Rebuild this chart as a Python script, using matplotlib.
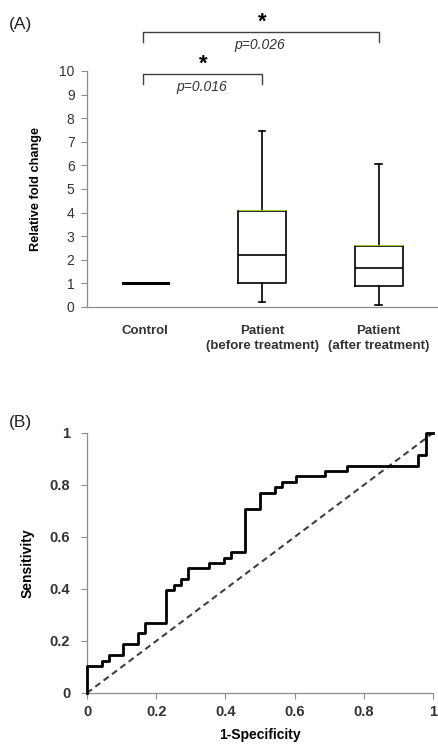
import matplotlib.pyplot as plt
import numpy as np

plt.rcParams['font.family'] = ['Liberation Sans', 'DejaVu Sans']

# panel A: box summary values
groups = ['Control', 'Patient\n(before treatment)', 'Patient\n(after treatment)']
whislo = [1.02, 0.22, 0.10]
q1 = [1.02, 1.00, 0.90]
med = [1.02, 2.20, 1.65]
q3 = [1.02, 4.05, 2.60]
whishi = [1.02, 7.45, 6.05]
pvals = ['p=0.016', 'p=0.026']
pairs = [(1, 2), (1, 3)]

# panel B: ROC step curve
fpr = [0, 0, 0.042, 0.042, 0.0625, 0.0625, 0.104, 0.104, 0.146, 0.146, 0.167, 0.167,
       0.229, 0.229, 0.25, 0.25, 0.271, 0.271, 0.292, 0.292, 0.354, 0.354, 0.396, 0.396,
       0.417, 0.417, 0.458, 0.458, 0.5, 0.5, 0.542, 0.542, 0.5625, 0.5625, 0.604, 0.604,
       0.6875, 0.6875, 0.75, 0.75, 0.958, 0.958, 0.979, 0.979, 1.0]
tpr = [0, 0.104, 0.104, 0.125, 0.125, 0.146, 0.146, 0.1875, 0.1875, 0.229, 0.229, 0.271,
       0.271, 0.396, 0.396, 0.417, 0.417, 0.4375, 0.4375, 0.479, 0.479, 0.5, 0.5, 0.521,
       0.521, 0.542, 0.542, 0.708, 0.708, 0.771, 0.771, 0.792, 0.792, 0.8125, 0.8125, 0.833,
       0.833, 0.854, 0.854, 0.875, 0.875, 0.917, 0.917, 1.0, 1.0]

W, H = 438, 747
fig = plt.figure(figsize=(W / 100, H / 100), dpi=100)
axc = '#8c8c8c'
tc = '#333333'

# ---- panel A
ax = fig.add_axes([87 / W, 1 - 307 / H, 350 / W, 236 / H])
stats = []
for i in range(3):
    stats.append(dict(whislo=whislo[i], q1=q1[i], med=med[i], q3=q3[i], whishi=whishi[i], fliers=[]))
lp = dict(color='black', linewidth=1.2)
ax.bxp(stats, positions=[1, 2, 3], widths=[0.38, 0.41, 0.41], capwidths=0.06,
       boxprops=lp, whiskerprops=lp, capprops=lp,
       medianprops=dict(color='black', linewidth=1.2), showfliers=False)
ax.plot([0.81, 1.19], [med[0], med[0]], color='black', lw=2.2)
# faint green top edge on boxes
for i in (1, 2):
    ax.plot([i + 1 - 0.2, i + 1 + 0.2], [q3[i] + 0.04, q3[i] + 0.04], color='#9acd32', lw=0.8)

ax.set_xlim(0.5, 3.5)
ax.set_ylim(0, 10)
ax.set_yticks(range(0, 11))
ax.tick_params(axis='y', labelsize=10, colors=axc, labelcolor=tc, length=4, width=0.8, pad=5)
ax.set_xticks([1, 2, 3])
ax.set_xticklabels(groups, fontsize=9.5, fontweight='bold', color=tc, linespacing=1.35)
ax.tick_params(axis='x', length=0, pad=13)
for s in ['top', 'right']:
    ax.spines[s].set_visible(False)
for s in ['left', 'bottom']:
    ax.spines[s].set_color(axc)
    ax.spines[s].set_linewidth(0.9)
ax.set_ylabel('Relative fold change', fontsize=9.2, fontweight='bold', color='black', labelpad=12)

# significance brackets
ys = [9.87, 11.65]
for (a, b), y, p in zip(pairs, ys, pvals):
    ax.plot([a - 0.02, a - 0.02, b, b], [y - 0.42, y, y, y - 0.42], color='#404040', lw=1.0, clip_on=False)
    ax.text((a + b) / 2, y + 0.42, '*', ha='center', va='center', fontsize=16, fontweight='bold',
            clip_on=False)
    xt = a + 0.48 if b == 2 else (a + b) / 2 - 0.02
    ax.text(xt, y - 0.55, p, ha='center', va='center', fontsize=10, style='italic', color=tc, clip_on=False)

fig.text(9 / W, 1 - 24 / H, '(A)', fontsize=12.5, va='center', ha='left', color='#222222')

# ---- panel B
bx = fig.add_axes([87 / W, 1 - 693 / H, 346 / W, 260 / H])
bx.plot(fpr, tpr, color='black', lw=2.0, clip_on=False, zorder=3)
bx.plot([0, 1], [0, 1], color='#404040', lw=1.5, ls=(0, (3, 2)))
bx.set_xlim(0, 1)
bx.set_ylim(0, 1)
ticks = [0, 0.2, 0.4, 0.6, 0.8, 1]
lbl = ['0', '0.2', '0.4', '0.6', '0.8', '1']
bx.set_xticks(ticks)
bx.set_xticklabels(lbl, fontsize=10.5, fontweight='bold', color=tc)
bx.set_yticks(ticks)
bx.set_yticklabels(lbl, fontsize=10.5, fontweight='bold', color=tc)
bx.tick_params(colors=axc, labelcolor=tc, length=4, width=0.8)
bx.tick_params(axis='y', pad=8)
bx.tick_params(axis='x', pad=5)
for s in ['top', 'right']:
    bx.spines[s].set_visible(False)
for s in ['left', 'bottom']:
    bx.spines[s].set_color(axc)
    bx.spines[s].set_linewidth(0.9)
bx.set_xlabel('1-Specificity', fontsize=10, fontweight='bold', labelpad=6)
bx.set_ylabel('Sensitivity', fontsize=10, fontweight='bold', labelpad=11)

fig.text(9 / W, 1 - 422 / H, '(B)', fontsize=12.5, va='center', ha='left', color='#222222')

fig.savefig('out.png', dpi=100)
